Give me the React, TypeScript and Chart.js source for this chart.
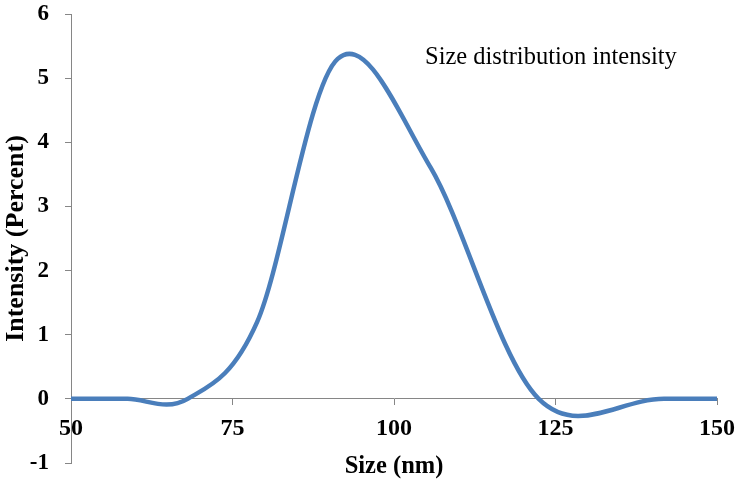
import React, { useEffect, useRef } from 'react';
import { Chart, registerables } from 'chart.js';

Chart.register(...registerables);

// Particle size bins (nm) and intensity (%)
const sizes = [43.82, 50.75, 58.77, 68.06, 78.82, 91.28, 105.7, 122.4, 141.8, 164.2];
const intensity = [0, 0, 0, 0, 1.2, 5.3, 3.6, 0, 0, 0];

const xRange = [50, 150];
const xStep = 25;
const yRange = [-1, 6];
const yStep = 1;

const seriesLabel = 'Size distribution intensity';
const seriesLabelAt = [104.8, 5.22];
const xTitle = 'Size (nm)';
const yTitle = 'Intensity (Percent)';

const FONT = '"Liberation Serif", "Times New Roman", serif';
const LINE_COLOR = '#4A7EBB';
const AXIS_COLOR = '#868686';

const labelPlugin = {
  id: 'seriesLabel',
  afterDraw(chart: any) {
    const { ctx, scales } = chart;
    ctx.save();
    ctx.font = `24.5px ${FONT}`;
    ctx.fillStyle = '#000';
    ctx.textAlign = 'left';
    ctx.textBaseline = 'alphabetic';
    ctx.fillText(
      seriesLabel,
      scales.x.getPixelForValue(seriesLabelAt[0]),
      scales.y.getPixelForValue(seriesLabelAt[1])
    );
    ctx.restore();
  },
};

// Excel-style smoothing: uniform Catmull-Rom control points on the library's own point elements
const smoothPlugin = {
  id: 'excelSmooth',
  beforeDatasetDraw(chart: any, args: any) {
    const meta = args.meta;
    const pts = meta.data;
    const n = pts.length;
    for (let i = 0; i < n; i++) {
      const p = pts[i];
      const prev = pts[Math.max(0, i - 1)];
      const next = pts[Math.min(n - 1, i + 1)];
      const dx = (next.x - prev.x) / 6;
      const dy = (next.y - prev.y) / 6;
      p.cp1x = p.x - dx;
      p.cp1y = p.y - dy;
      p.cp2x = p.x + dx;
      p.cp2y = p.y + dy;
    }
    if (meta.dataset) meta.dataset._pointsUpdated = true;
  },
};

const zeroPadding = (scale: any) => {
  scale.paddingLeft = 0;
  scale.paddingRight = 0;
  scale.paddingTop = 0;
  scale.paddingBottom = 0;
};

export default function App() {
  const ref = useRef<HTMLCanvasElement | null>(null);

  useEffect(() => {
    if (!ref.current) return;
    const points = sizes.map((x, i) => ({ x, y: intensity[i] }));
    const chart = new Chart(ref.current, {
      type: 'line',
      data: {
        datasets: [
          {
            label: seriesLabel,
            data: points,
            borderColor: LINE_COLOR,
            backgroundColor: LINE_COLOR,
            borderWidth: 4.5,
            pointRadius: 0,
            pointHoverRadius: 0,
            tension: 0.4,
            fill: false,
            clip: { left: 0, right: 0, top: 6, bottom: 6 } as any,
          },
        ],
      },
      options: {
        responsive: false,
        animation: false,
        events: [],
        layout: { padding: { left: 0, right: 18, top: 14, bottom: 16 } },
        plugins: {
          legend: { display: false },
          tooltip: { enabled: false },
          title: { display: false },
        },
        scales: {
          x: {
            type: 'linear',
            position: { y: 0 } as any,
            min: xRange[0],
            max: xRange[1],
            ticks: {
              stepSize: xStep,
              color: '#000',
              font: { family: FONT, size: 24, weight: 'bold' },
              padding: 10,
              maxRotation: 0,
            },
            grid: {
              display: true,
              drawOnChartArea: false,
              drawTicks: true,
              tickLength: 6,
              color: AXIS_COLOR,
            },
            border: { display: true, color: AXIS_COLOR, width: 1 },
            title: {
              display: true,
              text: xTitle,
              color: '#000',
              font: { family: FONT, size: 24.5, weight: 'bold' },
              padding: { top: -2, bottom: 0 },
            },
            afterFit: zeroPadding,
          },
          y: {
            type: 'linear',
            position: 'left',
            min: yRange[0],
            max: yRange[1],
            ticks: {
              stepSize: yStep,
              color: '#000',
              font: { family: FONT, size: 23, weight: 'bold' },
              padding: 16,
            },
            grid: {
              display: true,
              drawOnChartArea: false,
              drawTicks: true,
              tickLength: 6,
              color: AXIS_COLOR,
            },
            border: { display: true, color: AXIS_COLOR, width: 1 },
            title: {
              display: true,
              text: yTitle,
              color: '#000',
              font: { family: FONT, size: 26, weight: 'bold' },
              padding: { top: 1, bottom: 0 },
            },
            afterFit: (scale: any) => {
              zeroPadding(scale);
              scale.width = 71;
            },
          },
        },
      },
      plugins: [smoothPlugin, labelPlugin],
    });
    return () => chart.destroy();
  }, []);

  return (
    <div style={{ position: 'absolute', left: 0, top: 0, width: 735, height: 479, background: '#fff' }}>
      <canvas ref={ref} width={735} height={479} style={{ display: 'block' }} />
    </div>
  );
}
